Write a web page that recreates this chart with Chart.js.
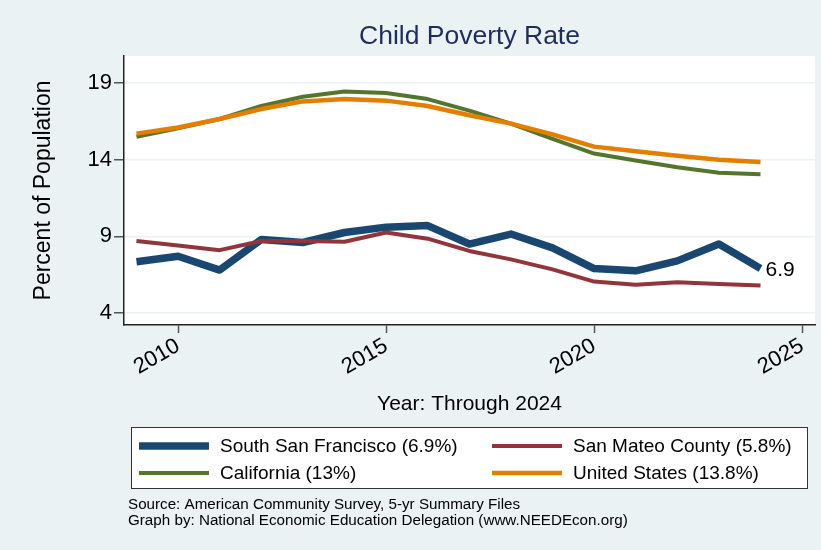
<!DOCTYPE html>
<html lang="en">

<head>
    <meta charset="UTF-8">
    <title>Child Poverty Rate</title>
    <script src="https://cdn.jsdelivr.net/npm/chart.js"></script>
    <style>
        body {
            margin: 0;
            padding: 0;
            background-color: #eaf2f3;
        }

        .chart-container {
            position: relative;
            width: 821px;
            height: 550px;
        }
    </style>
</head>

<body>
    <div class="chart-container">
        <canvas id="povertyChart" width="821" height="550"></canvas>
    </div>

    <script>
        // Data
        var years = [2009, 2010, 2011, 2012, 2013, 2014, 2015, 2016, 2017, 2018, 2019, 2020, 2021, 2022, 2023, 2024];
        var southSF = [7.35, 7.7, 6.8, 8.8, 8.6, 9.25, 9.6, 9.7, 8.5, 9.15, 8.25, 6.9, 6.75, 7.4, 8.5, 6.9];
        var sanMateo = [8.7, 8.4, 8.1, 8.7, 8.7, 8.65, 9.25, 8.85, 8.05, 7.5, 6.85, 6.05, 5.85, 6.0, 5.9, 5.8];
        var california = [15.5, 16.05, 16.65, 17.5, 18.1, 18.45, 18.35, 17.95, 17.2, 16.35, 15.35, 14.4, 13.95, 13.5, 13.15, 13.05];
        var unitedStates = [15.7, 16.1, 16.65, 17.3, 17.8, 17.95, 17.85, 17.5, 16.9, 16.35, 15.65, 14.85, 14.55, 14.25, 14.0, 13.85];
        var seriesNames = ['South San Francisco (6.9%)', 'San Mateo County (5.8%)', 'California (13%)', 'United States (13.8%)'];
        var yTicks = [4, 9, 14, 19];
        var xTicks = [2010, 2015, 2020, 2025];
        var endLabel = '6.9';

        var FONT = "'Liberation Sans', Arial, Helvetica, sans-serif";

        function toPoints(values) {
            return years.map(function (yr, i) {
                return { x: yr, y: values[i] };
            });
        }

        // Background, titles, legend box and notes
        var decorations = {
            id: 'decorations',
            beforeDraw: function (chart) {
                var ctx = chart.ctx;
                var area = chart.chartArea;
                ctx.save();
                ctx.fillStyle = '#eaf2f3';
                ctx.fillRect(0, 0, chart.width, chart.height);
                ctx.fillStyle = '#ffffff';
                ctx.fillRect(area.left, area.top, area.right - area.left, area.bottom - area.top);
                ctx.restore();
            },
            afterDraw: function (chart) {
                var ctx = chart.ctx;
                var area = chart.chartArea;
                ctx.save();

                // title
                ctx.fillStyle = '#1f2d5a';
                ctx.font = '26.5px ' + FONT;
                ctx.textAlign = 'center';
                ctx.textBaseline = 'middle';
                ctx.fillText('Child Poverty Rate', (area.left + area.right) / 2, 37);

                // value label at the last South San Francisco point
                var last = years.length - 1;
                var px = chart.scales.x.getPixelForValue(years[last]);
                var py = chart.scales.y.getPixelForValue(southSF[last]);
                ctx.fillStyle = '#000';
                ctx.font = '21px ' + FONT;
                ctx.textAlign = 'left';
                ctx.fillText(endLabel, px + 5, py + 2);

                // legend box
                ctx.fillStyle = '#ffffff';
                ctx.fillRect(131, 427, 676, 61);
                ctx.strokeStyle = '#333';
                ctx.lineWidth = 1;
                ctx.strokeRect(131.5, 427.5, 676, 61);

                var cols = [139, 492];
                var rows = [446, 473];
                chart.data.datasets.forEach(function (ds, i) {
                    var lx = cols[i % 2];
                    var ly = rows[Math.floor(i / 2)];
                    ctx.strokeStyle = ds.borderColor;
                    ctx.lineWidth = ds.borderWidth;
                    ctx.beginPath();
                    ctx.moveTo(lx, ly);
                    ctx.lineTo(lx + 70, ly);
                    ctx.stroke();
                    ctx.fillStyle = '#000';
                    ctx.font = '19px ' + FONT;
                    ctx.textAlign = 'left';
                    ctx.fillText(ds.label, lx + 81, ly + 1);
                });

                // notes
                ctx.font = '15.2px ' + FONT;
                ctx.fillText('Source: American Community Survey, 5-yr Summary Files', 128, 505);
                ctx.fillText('Graph by: National Economic Education Delegation (www.NEEDEcon.org)', 128, 521);
                ctx.restore();
            }
        };

        var ctx = document.getElementById('povertyChart').getContext('2d');
        var povertyChart = new Chart(ctx, {
            type: 'line',
            data: {
                datasets: [{
                    label: seriesNames[0],
                    data: toPoints(southSF),
                    borderColor: '#1a476f',
                    borderWidth: 7.5,
                    order: 4
                }, {
                    label: seriesNames[1],
                    data: toPoints(sanMateo),
                    borderColor: '#90353b',
                    borderWidth: 4,
                    order: 3
                }, {
                    label: seriesNames[2],
                    data: toPoints(california),
                    borderColor: '#55752f',
                    borderWidth: 4,
                    order: 2
                }, {
                    label: seriesNames[3],
                    data: toPoints(unitedStates),
                    borderColor: '#e37e00',
                    borderWidth: 4.5,
                    order: 1
                }]
            },
            options: {
                responsive: false,
                animation: false,
                layout: {
                    padding: { top: 56, right: 6, bottom: 125, left: 0 }
                },
                elements: {
                    point: { radius: 0 },
                    line: { tension: 0, borderJoinStyle: 'round', fill: false }
                },
                plugins: {
                    legend: { display: false },
                    tooltip: { enabled: false }
                },
                scales: {
                    x: {
                        type: 'linear',
                        min: 2008.7,
                        max: 2025.31,
                        afterBuildTicks: function (scale) {
                            scale.ticks = xTicks.map(function (v) { return { value: v }; });
                        },
                        afterFit: function (scale) {
                            scale.height = 100;
                        },
                        ticks: {
                            autoSkip: false,
                            maxRotation: 30,
                            minRotation: 30,
                            padding: 0,
                            color: '#000',
                            font: { family: FONT, size: 22 },
                            callback: function (v) { return String(v); }
                        },
                        grid: {
                            drawOnChartArea: false,
                            tickLength: 8,
                            tickColor: '#555',
                            tickWidth: 1.5
                        },
                        border: { color: '#222', width: 1.5 },
                        title: {
                            display: true,
                            text: 'Year: Through 2024',
                            color: '#000',
                            font: { family: FONT, size: 21 },
                            padding: { top: 0, bottom: 8 }
                        }
                    },
                    y: {
                        min: 3.22,
                        max: 20.76,
                        afterBuildTicks: function (scale) {
                            scale.ticks = yTicks.map(function (v) { return { value: v }; });
                        },
                        afterFit: function (scale) {
                            scale.width = 124;
                        },
                        ticks: {
                            padding: 2,
                            color: '#000',
                            font: { family: FONT, size: 22 }
                        },
                        grid: {
                            color: '#eaf2f3',
                            lineWidth: 1.5,
                            tickLength: 10,
                            tickColor: '#555',
                            tickWidth: 1.5
                        },
                        border: { color: '#222', width: 1.5 },
                        title: {
                            display: true,
                            text: 'Percent of Population',
                            color: '#000',
                            font: { family: FONT, size: 23 },
                            padding: { top: 30, bottom: 0 }
                        }
                    }
                }
            },
            plugins: [decorations]
        });
    </script>
</body>

</html>
